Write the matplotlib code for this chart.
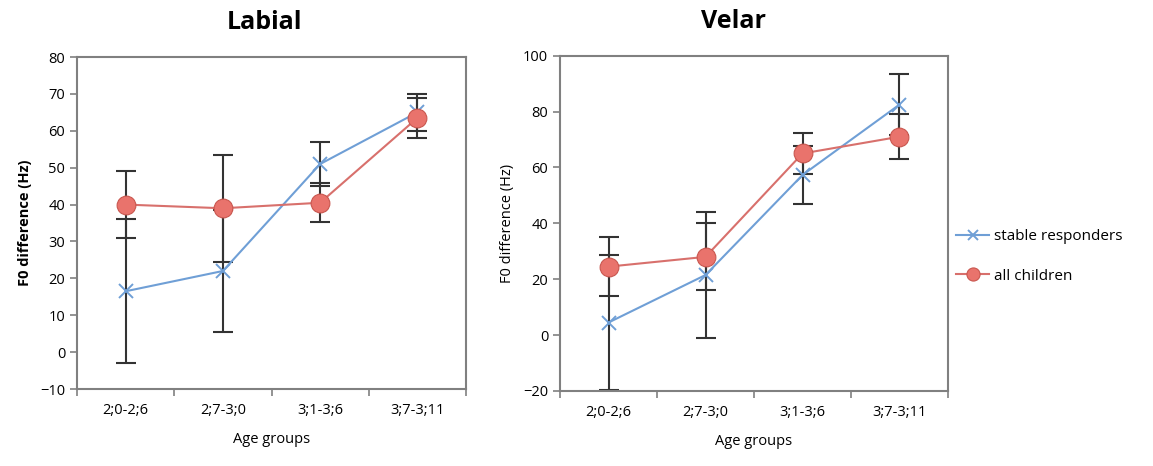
import matplotlib
matplotlib.use("Agg")
import matplotlib.pyplot as plt
import numpy as np

plt.rcParams['font.family'] = ['Open Sans', 'DejaVu Sans']

age_groups = ["2;0-2;6", "2;7-3;0", "3;1-3;6", "3;7-3;11"]

# Labial
labial_stable = [16.5, 22.0, 51.0, 65.0]
labial_stable_err = [19.5, 16.5, 6.0, 5.0]
labial_all = [40.0, 39.0, 40.5, 63.5]
labial_all_err = [9.0, 14.5, 5.3, 5.5]

# Velar
velar_stable = [4.5, 21.5, 57.3, 82.5]
velar_stable_err = [24.0, 22.5, 10.5, 11.0]
velar_all = [24.5, 28.0, 65.0, 71.0]
velar_all_err = [10.5, 12.0, 7.5, 8.0]

BLUE = "#6f9fd6"
RED_LINE = "#d8706c"
RED_FACE = "#e9736c"
RED_EDGE = "#c9574f"
FRAME = "#808080"

fig = plt.figure(figsize=(11.53, 4.66), dpi=100)
ax1 = fig.add_axes([0.0668, 0.1652, 0.3374, 0.7124])
ax2 = fig.add_axes([0.4857, 0.1610, 0.3365, 0.7195])

x = np.arange(len(age_groups))


def panel(ax, title, title_x, stable, stable_err, allc, allc_err, ylim, yticks,
          bold_ylabel):
    ax.errorbar(x, stable, yerr=stable_err, fmt="none", ecolor="#333333",
                elinewidth=1.5, capsize=7, capthick=1.5, zorder=2)
    ax.errorbar(x, allc, yerr=allc_err, fmt="none", ecolor="#333333",
                elinewidth=1.5, capsize=7, capthick=1.5, zorder=2)
    ax.plot(x, stable, color=BLUE, lw=1.5, marker="x", ms=10, mew=1.4,
            mec=BLUE, zorder=3, label="stable responders")
    ax.plot(x, allc, color=RED_LINE, lw=1.5, marker="o", ms=13.5,
            mfc=RED_FACE, mec=RED_EDGE, mew=0.8, zorder=4, label="all children")
    ax.set_xlim(-0.5, len(age_groups) - 0.5)
    ax.set_ylim(*ylim)
    ax.set_yticks(yticks)
    ax.set_xticks(x)
    ax.set_xticklabels(age_groups, fontsize=10.5)
    ax.set_xticks(np.arange(len(age_groups) + 1) - 0.5, minor=True)
    ax.tick_params(axis="x", which="major", length=0, pad=10)
    ax.tick_params(axis="x", which="minor", length=5, color=FRAME, width=1.2)
    ax.tick_params(axis="y", length=5, color=FRAME, width=1.2, labelsize=10.5)
    for s in ax.spines.values():
        s.set_color(FRAME)
        s.set_linewidth(1.5)
    ax.set_title(title, fontsize=18, fontweight="bold", pad=20, x=title_x)
    ax.set_xlabel("Age groups", fontsize=10.5, labelpad=10)
    ax.set_ylabel("F0 difference (Hz)", fontsize=10.5,
                  fontweight="bold" if bold_ylabel else "normal", labelpad=6)


panel(ax1, "Labial", 0.483, labial_stable, labial_stable_err, labial_all,
      labial_all_err, (-10, 80), np.arange(-10, 81, 10), True)
panel(ax2, "Velar", 0.448, velar_stable, velar_stable_err, velar_all,
      velar_all_err, (-20, 100), np.arange(-20, 101, 20), False)

handles, labels = ax2.get_legend_handles_labels()
fig.legend(handles, labels, loc="center left", bbox_to_anchor=(0.817, 0.45),
           frameon=False, fontsize=11, handlelength=2.2, handletextpad=0.3,
           labelspacing=1.6, markerscale=0.7)

fig.savefig("out.png", dpi=100)
